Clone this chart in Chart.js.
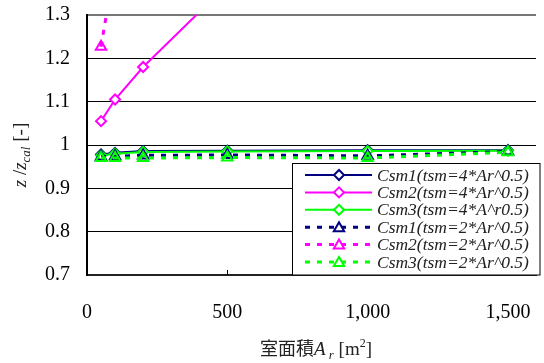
<!DOCTYPE html>
<html>
<head>
<meta charset="utf-8">
<script src="https://cdn.jsdelivr.net/npm/chart.js@4.4.1/dist/chart.umd.min.js"></script>
<style>
  html, body { margin: 0; padding: 0; background: #fff; }
  #wrap { width: 544px; height: 363px; position: relative; }
</style>
</head>
<body>
<div id="wrap"><canvas id="c" width="544" height="363"></canvas></div>
<script>
// Room area A_r [m2]
const areas = [50, 100, 200, 500, 1000, 1500];

// z / z_cal for each case
const csm1T4 = [0.978, 0.982, 0.986, 0.987, 0.988, 0.988];
const csm2T4 = [1.055, 1.105, 1.180, 1.370, 1.620, 1.800];
const csm3T4 = [0.976, 0.980, 0.984, 0.985, 0.986, 0.987];
const csm1T2 = [0.973, 0.974, 0.976, 0.977, 0.975, 0.985];
const csm2T2 = [1.227, 1.420, 1.620, 1.950, 2.300, 2.550];
const csm3T2 = [0.970, 0.970, 0.970, 0.971, 0.970, 0.983];

const seriesLabels = [
  'Csm1(tsm=4*Ar^0.5)',
  'Csm2(tsm=4*Ar^0.5)',
  'Csm3(tsm=4*A^r0.5)',
  'Csm1(tsm=2*Ar^0.5)',
  'Csm2(tsm=2*Ar^0.5)',
  'Csm3(tsm=2*Ar^0.5)'
];

const xTicks = [0, 500, 1000, 1500];
const yTicks = [0.7, 0.8, 0.9, 1.0, 1.1, 1.2, 1.3];

const NAVY = '#000080', MAGENTA = '#FF00FF', GREEN = '#00FF00';
const SERIF = '"Liberation Serif", "Times New Roman", serif';

function pts(ys) { return areas.map((a, i) => ({ x: a, y: ys[i] })); }

function solid(label, ys, color) {
  return {
    label, data: pts(ys), borderColor: color, backgroundColor: color,
    borderWidth: 2, pointStyle: 'rectRot', pointRadius: 5,
    pointBorderWidth: 2, pointBackgroundColor: '#fff', pointBorderColor: color,
    tension: 0, clip: 0
  };
}
function dashed(label, ys, color) {
  return {
    label, data: pts(ys), borderColor: color, backgroundColor: color,
    borderWidth: 3, borderDash: [5, 7], pointStyle: 'triangle', pointRadius: 6,
    pointBorderWidth: 2, pointBackgroundColor: 'rgba(255,255,255,0)', pointBorderColor: color,
    tension: 0, clip: 0
  };
}

const datasets = [
  solid(seriesLabels[0], csm1T4, NAVY),
  solid(seriesLabels[1], csm2T4, MAGENTA),
  solid(seriesLabels[2], csm3T4, GREEN),
  dashed(seriesLabels[3], csm1T2, NAVY),
  dashed(seriesLabels[4], csm2T2, MAGENTA),
  dashed(seriesLabels[5], csm3T2, GREEN)
];
// later series are painted over earlier ones
datasets.forEach((d, i) => { d.order = datasets.length - 1 - i; });

// draws a run of text pieces with their own fonts and vertical shifts
function drawRich(ctx, pieces, cx, baseline) {
  let w = 0;
  pieces.forEach(p => { ctx.font = p.f; p.w = ctx.measureText(p.t).width; w += p.w; });
  let x = cx - w / 2;
  ctx.textAlign = 'left';
  ctx.textBaseline = 'alphabetic';
  pieces.forEach(p => { ctx.font = p.f; ctx.fillText(p.t, x, baseline + (p.dy || 0)); x += p.w; });
}

function marker(ctx, style, x, y, r) {
  ctx.beginPath();
  if (style === 'rectRot') {
    ctx.moveTo(x - r, y); ctx.lineTo(x, y - r); ctx.lineTo(x + r, y); ctx.lineTo(x, y + r);
  } else {
    const s = Math.sin(Math.PI / 3) * r;
    ctx.moveTo(x, y - r); ctx.lineTo(x + s, y + r / 2); ctx.lineTo(x - s, y + r / 2);
  }
  ctx.closePath();
}

const decorations = {
  id: 'decorations',
  beforeDatasetsDraw(chart) {
    const ctx = chart.ctx, a = chart.chartArea, xs = chart.scales.x;
    ctx.save();
    ctx.strokeStyle = '#000';
    ctx.lineWidth = 1;
    xTicks.slice(1).forEach(v => {
      const px = Math.round(xs.getPixelForValue(v)) + 0.5;
      ctx.beginPath(); ctx.moveTo(px, a.bottom - 5); ctx.lineTo(px, a.bottom); ctx.stroke();
    });
    ctx.restore();
  },
  afterDraw(chart) {
    const ctx = chart.ctx, a = chart.chartArea;
    ctx.save();

    // legend box inside the plot, lower right
    const lx = 292.5, ly = 163.5;
    ctx.fillStyle = '#fff';
    ctx.fillRect(lx, ly, a.right - lx + 4, a.bottom - ly);
    ctx.strokeStyle = '#000';
    ctx.lineWidth = 1;
    ctx.strokeRect(lx, ly, a.right - lx + 4, a.bottom - ly);

    chart.data.datasets.forEach((ds, i) => {
      const y = 175 + i * 17.4;
      ctx.strokeStyle = ds.borderColor;
      ctx.lineWidth = ds.borderWidth;
      ctx.setLineDash(ds.borderDash || []);
      ctx.beginPath(); ctx.moveTo(305, y); ctx.lineTo(372, y); ctx.stroke();
      ctx.setLineDash([]);
      ctx.lineWidth = ds.pointBorderWidth;
      ctx.fillStyle = '#fff';
      marker(ctx, ds.pointStyle, 339, y + (ds.pointStyle === 'triangle' ? 1 : 0), ds.pointStyle === 'triangle' ? 6 : 5);
      ctx.fill(); ctx.stroke();
      ctx.fillStyle = '#222';
      ctx.font = 'italic 17.5px ' + SERIF;
      ctx.textAlign = 'left';
      ctx.textBaseline = 'middle';
      ctx.fillText(ds.label, 377, y + 1);
    });

    ctx.fillStyle = '#222';
    // x-axis title
    drawRich(ctx, [
      { t: '室面積', f: '18px "Noto Sans CJK JP"' },
      { t: 'A', f: 'italic 19px ' + SERIF },
      { t: ' r', f: 'italic 13px ' + SERIF, dy: 4 },
      { t: ' [m', f: '19px ' + SERIF },
      { t: '2', f: '12px ' + SERIF, dy: -8 },
      { t: ']', f: '19px ' + SERIF }
    ], 316, 355);

    // y-axis title, rotated
    ctx.translate(26, 155);
    ctx.rotate(-Math.PI / 2);
    drawRich(ctx, [
      { t: 'z', f: 'italic 19px ' + SERIF },
      { t: ' /', f: '19px ' + SERIF },
      { t: 'z', f: 'italic 19px ' + SERIF },
      { t: 'cal', f: 'italic 13px ' + SERIF, dy: 4 },
      { t: ' [-]', f: '19px ' + SERIF }
    ], 0, 0);

    ctx.restore();
  }
};

new Chart(document.getElementById('c'), {
  type: 'line',
  data: { datasets },
  options: {
    responsive: false,
    animation: false,
    devicePixelRatio: 1,
    layout: { padding: { top: 15, right: 0, left: 0, bottom: 0 } },
    plugins: { legend: { display: false }, tooltip: { enabled: false } },
    scales: {
      x: {
        type: 'linear', min: 0, max: 1600,
        afterBuildTicks: s => { s.ticks = xTicks.map(v => ({ value: v })); },
        afterFit: s => { s.height = 88; s.paddingLeft = 0; s.paddingRight = 0; },
        grid: { display: false, drawTicks: false },
        border: { display: true, color: '#222', width: 2 },
        ticks: {
          padding: 26, color: '#000', font: { family: SERIF, size: 20 },
          maxRotation: 0,
          callback: v => v.toLocaleString('en-US')
        }
      },
      y: {
        type: 'linear', min: 0.7, max: 1.3,
        afterBuildTicks: s => { s.ticks = yTicks.map(v => ({ value: v })); },
        afterFit: s => { s.width = 87; s.paddingTop = 0; s.paddingBottom = 0; },
        grid: {
          drawTicks: false,
          color: c => (c.tick && c.tick.value > 1.29) ? '#777' : '#000',
          lineWidth: c => (c.tick && c.tick.value > 1.29) ? 2 : 1
        },
        border: { display: true, color: '#000', width: 2 },
        ticks: {
          padding: 17, color: '#000', font: { family: SERIF, size: 20 },
          callback: v => String(+Number(v).toFixed(1))
        }
      }
    }
  },
  plugins: [decorations]
});
</script>
</body>
</html>
